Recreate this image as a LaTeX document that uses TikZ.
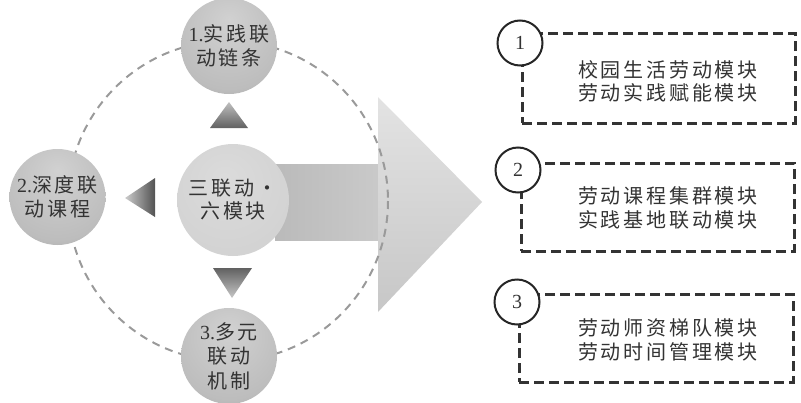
\documentclass[tikz,border=0pt]{standalone}
\usepackage{fontspec}
\setmainfont{Liberation Serif}
\newfontfamily\cjk{Noto Sans CJK SC}[LetterSpace=14]
\definecolor{txt}{HTML}{333333}
\definecolor{dashc}{HTML}{9A9A9A}
\definecolor{boxc}{HTML}{333333}
\pgfdeclareradialshading{sphere}{\pgfpoint{0bp}{14bp}}{color(0bp)=(black!18); color(30bp)=(black!26); color(64bp)=(black!55)}
\pgfdeclareradialshading{csphere}{\pgfpoint{-4bp}{10bp}}{color(0bp)=(black!14); color(35bp)=(black!18); color(60bp)=(black!28)}
\tikzset{
  sph/.style={circle, minimum size=96pt, inner sep=0pt, shading=sphere, text=txt,
    font=\cjk\fontsize{20}{24.5}\selectfont, align=center},
  csph/.style={circle, minimum size=112pt, inner sep=0pt, shading=csphere, text=txt,
    font=\cjk\fontsize{20}{23}\selectfont, align=center},
  dashcirc/.style={draw=dashc, line width=2pt, dash pattern=on 8pt off 6pt},
  dbox/.style={draw=boxc, line width=3pt, dash pattern=on 10pt off 5pt, rectangle, inner sep=0pt},
  numc/.style={circle, draw=black!85, line width=2pt, fill=white, minimum size=45pt, inner sep=0pt,
    font=\fontsize{20}{20}\selectfont, text=txt},
  btxt/.style={align=center, text=txt, font=\cjk\fontsize{20}{23.5}\selectfont, inner sep=0pt},
}
\begin{document}
\begin{tikzpicture}[x=1pt,y=-1pt]
\useasboundingbox (0,0) rectangle (801,402);
% big arrow
\shade[left color=black!27, right color=black!21] (275,164) rectangle (379,240);
\shade[top color=black!11, bottom color=black!22] (378,97) -- (482,202) -- (378,312) -- cycle;
% dashed orbit
\draw[dashcirc] (228,201) circle[radius=160];
% triangles
\shade[top color=black!25, bottom color=black!62] (229,102) -- (248,128) -- (210,128) -- cycle;
\shade[left color=black!20, right color=black!68] (125,198) -- (155,178) -- (155,217) -- cycle;
\shade[top color=black!62, bottom color=black!22] (213,268) -- (252,268) -- (232,298) -- cycle;
% spheres
\node[sph] (n1) at (229,46) {{\rmfamily 1.}实践联\\动链条};
\node[sph] (n2) at (57.5,197) {{\rmfamily 2.}深度联\\动课程};
\node[sph] (n3) at (229,356) {{\rmfamily 3.}多元\\联动\\机制};
\node[csph] (c) at (233,200) {三联动·\\六模块};
% boxes
\node[dbox, minimum width=273pt, minimum height=90pt] (b1) at (658.5,78) {};
\node[dbox, minimum width=273pt, minimum height=88pt] (b2) at (657.5,207) {};
\node[dbox, minimum width=274pt, minimum height=88pt] (b3) at (656,338) {};
\node[numc] (k1) at (520,43) {1};
\node[numc] (k2) at (518,170) {2};
\node[numc] (k3) at (517,302) {3};
\node[btxt] (t1) at (668,81.5) {校园生活劳动模块\\劳动实践赋能模块};
\node[btxt] (t2) at (668,208) {劳动课程集群模块\\实践基地联动模块};
\node[btxt] (t3) at (668,340) {劳动师资梯队模块\\劳动时间管理模块};
\end{tikzpicture}
\end{document}
